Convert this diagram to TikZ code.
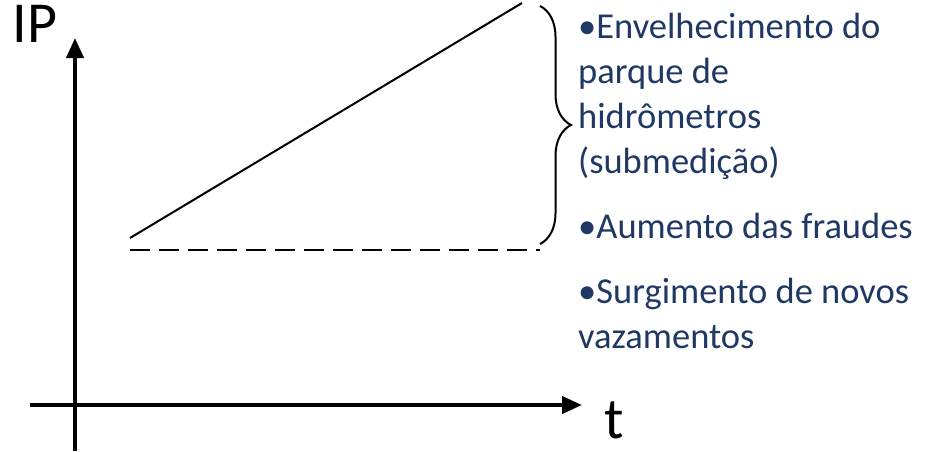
\documentclass[tikz,border=0pt]{standalone}
\usepackage{fontspec}
\setmainfont{Carlito}
\usetikzlibrary{decorations.pathreplacing,arrows.meta}
\definecolor{textblue}{RGB}{31,56,100}
\tikzset{
  axis/.style={line width=4pt,-{Triangle[length=20pt,width=17pt]}},
  axislabel/.style={inner sep=0pt,font=\fontsize{58}{58}\selectfont},
  item/.style={anchor=base west,inner sep=0pt,align=left,text=textblue,
    font=\fontsize{36.5}{45}\selectfont},
}
\begin{document}
\begin{tikzpicture}[x=1pt,y=-1pt]
  \useasboundingbox (0,0) rectangle (925,451);
  % axes
  \coordinate (ybot) at (75,451);
  \coordinate (ytop) at (75,38);
  \coordinate (xleft) at (30,405);
  \coordinate (xright) at (582,405);
  \draw[axis] (ybot) to (ytop);
  \draw[axis] (xleft) to (xright);
      \node[axislabel] (ip) at (35,24){IP};
      \node[axislabel] (t) at (614,420){t};
  % lines
  \coordinate (start) at (130,238);
  \coordinate (peak) at (522,3);
  \coordinate (dashend) at (540,250);
  \draw[line width=2pt] (start) to (peak);
  \draw[line width=2pt,dash pattern=on 20pt off 9pt] (start |- dashend) to (dashend);
  % brace
  \coordinate (btop) at (540,6);
  \coordinate (bbot) at (540,244);
  \draw[line width=2pt,decorate,decoration={brace,amplitude=31pt}] (btop) to (bbot);
  % causes (base = last line)
      \node[item] (aging) at (578,173){•Envelhecimento do\\parque de\\hidrômetros\\(submedição)};
      \node[item] (fraud) at (578,238){•Aumento das fraudes};
      \node[item] (leaks) at (578,348){•Surgimento de novos\\vazamentos};
\end{tikzpicture}
\end{document}
